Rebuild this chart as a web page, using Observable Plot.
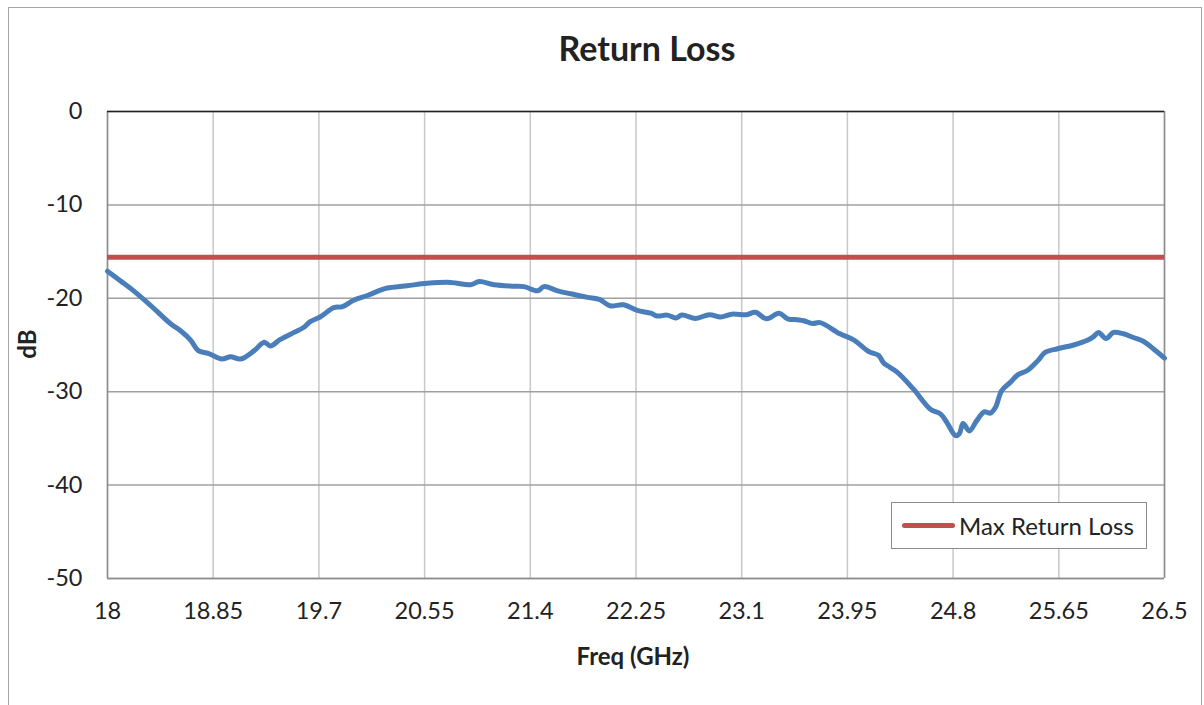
<!DOCTYPE html>
<html>
<head>
<meta charset="utf-8">
<script src="https://cdn.jsdelivr.net/npm/d3@7"></script>
<script src="https://cdn.jsdelivr.net/npm/@observablehq/plot@0.6"></script>
<style>
  html, body { margin: 0; padding: 0; background: #fff; }
  #wrap { position: relative; width: 1204px; height: 705px; overflow: hidden; font-family: Lato, "Open Sans", sans-serif; color: #222; }
  #frame { position: absolute; left: 8px; top: 7px; width: 1194px; height: 720px; border: 1.5px solid #a6a6a6; box-sizing: border-box; }
  #title { position: absolute; left: 0; width: 1294px; top: 27px; text-align: center; font-weight: bold; font-size: 34px; }
  #chart { position: absolute; left: 0; top: 0; }
  #ylab { position: absolute; left: 41px; top: 344px; transform: translate(-100%, -50%) rotate(-90deg); transform-origin: center; font-weight: bold; font-size: 24px; }
  #xlab { position: absolute; left: 633px; top: 641px; transform: translateX(-50%); font-weight: bold; font-size: 24px; white-space: nowrap; }
  #legend { position: absolute; left: 891px; top: 502px; width: 256px; height: 47px; box-sizing: border-box; border: 1.5px solid #8c8c8c; background: #fff; display: flex; align-items: center; font-size: 24px; white-space: nowrap; }
  #legend .sw { width: 53px; height: 5px; border-radius: 3px; background: #c0504d; margin-left: 10px; margin-right: 4px; flex: none; }
</style>
</head>
<body>
<div id="wrap">
  <div id="frame"></div>
  <div id="chart"></div>
  <div id="title">Return Loss</div>
  <div id="ylab">dB</div>
  <div id="xlab">Freq (GHz)</div>
  <div id="legend"><div class="sw"></div><span>Max Return Loss</span></div>
</div>
<script>
const freqGHz = [18.00, 18.10, 18.21, 18.35, 18.51, 18.59, 18.67, 18.73, 18.81, 18.92, 18.99, 19.07, 19.18, 19.26, 19.31, 19.39, 19.50, 19.58, 19.63, 19.71, 19.82, 19.89, 19.98, 20.09, 20.20, 20.25, 20.41, 20.57, 20.76, 20.92, 20.99, 21.11, 21.27, 21.35, 21.46, 21.51, 21.62, 21.72, 21.86, 21.96, 22.04, 22.15, 22.26, 22.37, 22.42, 22.50, 22.57, 22.62, 22.73, 22.84, 22.93, 23.02, 23.14, 23.21, 23.30, 23.40, 23.47, 23.55, 23.60, 23.67, 23.73, 23.89, 24.00, 24.11, 24.14, 24.20, 24.24, 24.27, 24.35, 24.48, 24.62, 24.70, 24.75, 24.82, 24.85, 24.88, 24.93, 24.99, 25.05, 25.10, 25.14, 25.19, 25.26, 25.32, 25.40, 25.48, 25.54, 25.64, 25.77, 25.88, 25.93, 25.97, 26.03, 26.09, 26.17, 26.25, 26.33, 26.41, 26.50];
const returnLossDB = [-17.1, -18.1, -19.2, -20.8, -22.75, -23.5, -24.5, -25.6, -25.9, -26.5, -26.25, -26.5, -25.6, -24.7, -25.1, -24.4, -23.65, -23.1, -22.5, -22.0, -21.0, -20.9, -20.2, -19.7, -19.1, -18.9, -18.65, -18.4, -18.3, -18.55, -18.2, -18.55, -18.7, -18.75, -19.2, -18.75, -19.2, -19.5, -19.9, -20.15, -20.8, -20.7, -21.3, -21.6, -21.9, -21.8, -22.1, -21.8, -22.15, -21.75, -22.0, -21.7, -21.75, -21.5, -22.2, -21.6, -22.2, -22.3, -22.4, -22.7, -22.6, -23.8, -24.45, -25.6, -25.8, -26.1, -26.9, -27.2, -27.9, -29.7, -31.9, -32.4, -33.3, -34.7, -34.5, -33.4, -34.2, -33.1, -32.15, -32.3, -31.7, -29.9, -29.0, -28.2, -27.7, -26.7, -25.8, -25.4, -25.0, -24.5, -24.1, -23.65, -24.3, -23.65, -23.8, -24.2, -24.6, -25.4, -26.4];
const maxReturnLoss = -15.6;
const xTicks = [18, 18.85, 19.7, 20.55, 21.4, 22.25, 23.1, 23.95, 24.8, 25.65, 26.5];
const yTicks = [0, -10, -20, -30, -40, -50];

const data = freqGHz.map((f, i) => ({f, db: returnLossDB[i]}));

const chart = Plot.plot({
  width: 1204,
  height: 705,
  marginLeft: 107,
  marginRight: 40,
  marginTop: 111,
  marginBottom: 127,
  style: {fontFamily: "Lato, 'Open Sans', sans-serif", fontSize: "23.5px", color: "#222", background: "transparent", overflow: "visible"},
  x: {domain: [18, 26.5]},
  y: {domain: [-50, 0]},
  marks: [
    Plot.gridX(xTicks, {stroke: "#c8c8c8", strokeOpacity: 1, strokeWidth: 1.5}),
    Plot.gridY(yTicks, {stroke: "#a0a0a0", strokeOpacity: 1, strokeWidth: 1.5}),
    Plot.ruleX([18, 26.5], {stroke: "#8c8c8c", strokeWidth: 1.5}),
    Plot.ruleY([-50], {stroke: "#8c8c8c", strokeWidth: 1.5}),
    Plot.ruleY([0], {stroke: "#222", strokeWidth: 1.5}),
    Plot.axisX({ticks: xTicks, tickSize: 0, tickPadding: 24, tickFormat: d => String(d), label: null, fontSize: 23.5}),
    Plot.axisY({ticks: yTicks, tickSize: 0, tickPadding: 25, tickFormat: d => String(d), label: null, fontSize: 23.5}),
    Plot.ruleY([maxReturnLoss], {x1: 18, x2: 26.5, stroke: "#c0504d", strokeWidth: 5}),
    Plot.line(data, {x: "f", y: "db", stroke: "#4a7ebb", strokeWidth: 5, strokeLinejoin: "round", strokeLinecap: "round", curve: "catmull-rom"})
  ]
});
document.getElementById("chart").appendChild(chart);
</script>
</body>
</html>
